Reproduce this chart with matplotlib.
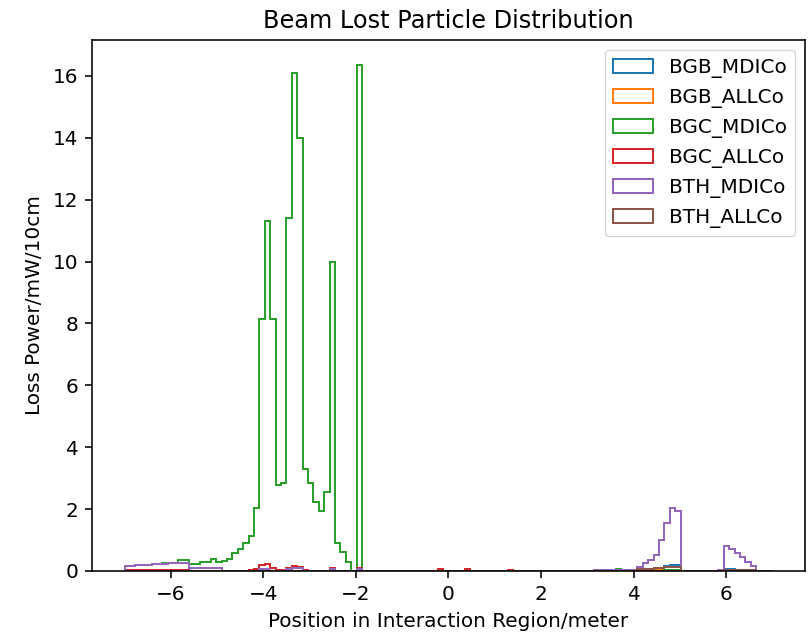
import numpy as np
import matplotlib
matplotlib.use("Agg")
import matplotlib.pyplot as plt

# 120 bins from -7 to 7 m
x_min, x_max, n_bins = -7.0, 7.0, 120

labels = ["BGB_MDICo", "BGB_ALLCo", "BGC_MDICo", "BGC_ALLCo", "BTH_MDICo", "BTH_ALLCo"]

bgb_mdico = [
    0, 0, 0, 0, 0, 0, 0, 0, 0, 0,
    0, 0, 0, 0, 0, 0, 0, 0, 0, 0,
    0, 0, 0, 0, 0, 0, 0, 0, 0, 0,
    0, 0, 0, 0, 0, 0, 0, 0, 0, 0,
    0, 0, 0, 0, 0, 0, 0, 0, 0, 0,
    0, 0, 0, 0, 0, 0, 0, 0, 0, 0,
    0, 0, 0, 0, 0, 0, 0, 0, 0, 0,
    0, 0, 0, 0, 0, 0, 0, 0, 0, 0,
    0, 0, 0, 0, 0, 0, 0, 0, 0, 0,
    0, 0, 0, 0, 0, 0, 0, 0, 0.08, 0.08,
    0.15, 0.20, 0.20, 0, 0, 0, 0, 0, 0, 0,
    0, 0.05, 0.05, 0, 0, 0, 0, 0, 0, 0,
]

bgb_allco = [
    0, 0, 0, 0, 0, 0, 0, 0, 0, 0,
    0, 0, 0, 0, 0, 0, 0, 0, 0, 0,
    0, 0, 0, 0, 0, 0, 0, 0, 0, 0,
    0, 0, 0, 0, 0, 0, 0, 0, 0, 0,
    0, 0, 0, 0, 0, 0, 0, 0, 0, 0,
    0, 0, 0, 0, 0, 0, 0, 0, 0, 0,
    0, 0, 0, 0, 0, 0, 0, 0, 0, 0,
    0, 0, 0, 0, 0, 0, 0, 0, 0, 0,
    0, 0, 0, 0, 0, 0, 0, 0, 0, 0,
    0, 0, 0, 0, 0, 0, 0, 0, 0.03, 0.03,
    0.04, 0.04, 0.04, 0, 0, 0, 0, 0, 0, 0,
    0, 0, 0, 0, 0, 0, 0, 0, 0, 0,
]

bgc_mdico = [
    0.15, 0.16, 0.19, 0.20, 0.20, 0.21, 0.22, 0.25, 0.27, 0.27,
    0.34, 0.34, 0.21, 0.22, 0.29, 0.29, 0.40, 0.28, 0.33, 0.40,
    0.57, 0.72, 0.90, 1.12, 2.02, 8.15, 11.30, 8.15, 2.78, 2.83,
    11.40, 16.10, 14.00, 3.30, 2.85, 2.22, 1.95, 2.55, 10.00, 0.90,
    0.62, 0.30, 0.00, 16.35, 0, 0, 0, 0, 0, 0,
    0, 0, 0, 0, 0, 0, 0, 0, 0, 0,
    0, 0, 0, 0, 0, 0, 0, 0, 0, 0,
    0, 0, 0, 0, 0, 0, 0, 0, 0, 0,
    0, 0, 0, 0, 0, 0, 0, 0, 0, 0,
    0, 0.05, 0, 0, 0, 0, 0, 0, 0, 0,
    0.04, 0.04, 0.04, 0, 0, 0, 0, 0, 0, 0,
    0, 0, 0, 0, 0, 0, 0, 0, 0, 0,
]

bgc_allco = [
    0.03, 0.03, 0.03, 0.03, 0.03, 0.03, 0.03, 0.03, 0.03, 0.03,
    0.03, 0.03, 0, 0, 0, 0, 0, 0, 0, 0,
    0, 0, 0, 0.02, 0.05, 0.18, 0.22, 0.10, 0.02, 0.02,
    0.10, 0.16, 0.12, 0.02, 0, 0, 0, 0, 0.08, 0,
    0, 0, 0, 0.10, 0, 0, 0, 0, 0, 0,
    0, 0, 0, 0, 0, 0, 0, 0, 0.05, 0,
    0, 0, 0, 0.05, 0, 0, 0, 0, 0, 0,
    0, 0.03, 0, 0, 0, 0, 0, 0, 0, 0,
    0, 0, 0, 0, 0, 0, 0, 0, 0, 0,
    0, 0, 0, 0, 0, 0, 0, 0, 0, 0,
    0, 0, 0, 0, 0, 0, 0, 0, 0, 0,
    0, 0, 0, 0, 0, 0, 0, 0, 0, 0,
]

bth_mdico = [
    0.15, 0.15, 0.19, 0.19, 0.19, 0.22, 0.22, 0.22, 0.26, 0.26,
    0.26, 0.26, 0.10, 0.10, 0.10, 0.10, 0.10, 0.10, 0, 0,
    0, 0, 0, 0, 0, 0.05, 0.06, 0, 0, 0,
    0.06, 0.09, 0.08, 0, 0, 0, 0, 0, 0.05, 0,
    0, 0, 0, 0.05, 0, 0, 0, 0, 0, 0,
    0, 0, 0, 0, 0, 0, 0, 0, 0, 0,
    0, 0, 0, 0, 0, 0, 0, 0, 0, 0,
    0, 0, 0, 0, 0, 0, 0, 0, 0, 0,
    0, 0, 0, 0, 0, 0, 0, 0.02, 0.02, 0.02,
    0.02, 0.02, 0.02, 0.02, 0.02, 0.12, 0.25, 0.36, 0.52, 1.00,
    1.55, 2.05, 1.95, 0, 0, 0, 0, 0, 0, 0,
    0.02, 0.80, 0.70, 0.58, 0.45, 0.30, 0.15, 0, 0, 0,
]

bth_allco = [
    0, 0, 0, 0, 0, 0, 0, 0, 0, 0,
    0, 0, 0, 0, 0, 0, 0, 0, 0, 0,
    0, 0, 0, 0, 0, 0, 0, 0, 0, 0,
    0, 0, 0, 0, 0, 0, 0, 0, 0, 0,
    0, 0, 0, 0, 0, 0, 0, 0, 0, 0,
    0, 0, 0, 0, 0, 0, 0, 0, 0, 0,
    0, 0, 0, 0, 0, 0, 0, 0, 0, 0,
    0, 0, 0, 0, 0, 0, 0, 0, 0, 0,
    0, 0, 0, 0, 0, 0, 0, 0, 0, 0,
    0, 0, 0, 0, 0, 0.05, 0.05, 0.05, 0.08, 0.08,
    0.12, 0.12, 0.12, 0, 0, 0, 0, 0, 0, 0,
    0, 0.03, 0.03, 0.03, 0.03, 0.03, 0.03, 0, 0, 0,
]

series = [bgb_mdico, bgb_allco, bgc_mdico, bgc_allco, bth_mdico, bth_allco]

edges = np.linspace(x_min, x_max, n_bins + 1)
centers = 0.5 * (edges[:-1] + edges[1:])

s = 1.44
plt.rcParams.update({
    "axes.linewidth": 0.8 * s,
    "xtick.major.size": 3.5 * s,
    "ytick.major.size": 3.5 * s,
    "xtick.major.width": 0.8 * s,
    "ytick.major.width": 0.8 * s,
    "xtick.major.pad": 3.5 * s,
    "ytick.major.pad": 3.5 * s,
})

fig = plt.figure(figsize=(8.08, 6.33), dpi=100)
ax = fig.add_axes([0.114, 0.098, 0.882, 0.839])
for vals, lab in zip(series, labels):
    ax.hist(centers, bins=edges, weights=vals, histtype="step", label=lab,
            linewidth=1.0 * s)

ax.set_title("Beam Lost Particle Distribution", fontsize=12 * s, pad=6 * s)
ax.set_xlabel("Position in Interaction Region/meter", fontsize=10 * s, labelpad=4 * s)
ax.set_ylabel("Loss Power/mW/10cm", fontsize=10 * s, labelpad=4 * s)
ax.tick_params(labelsize=10 * s)
ax.legend(loc="upper right", fontsize=10 * s)
fig.savefig("out.png", dpi=100)
